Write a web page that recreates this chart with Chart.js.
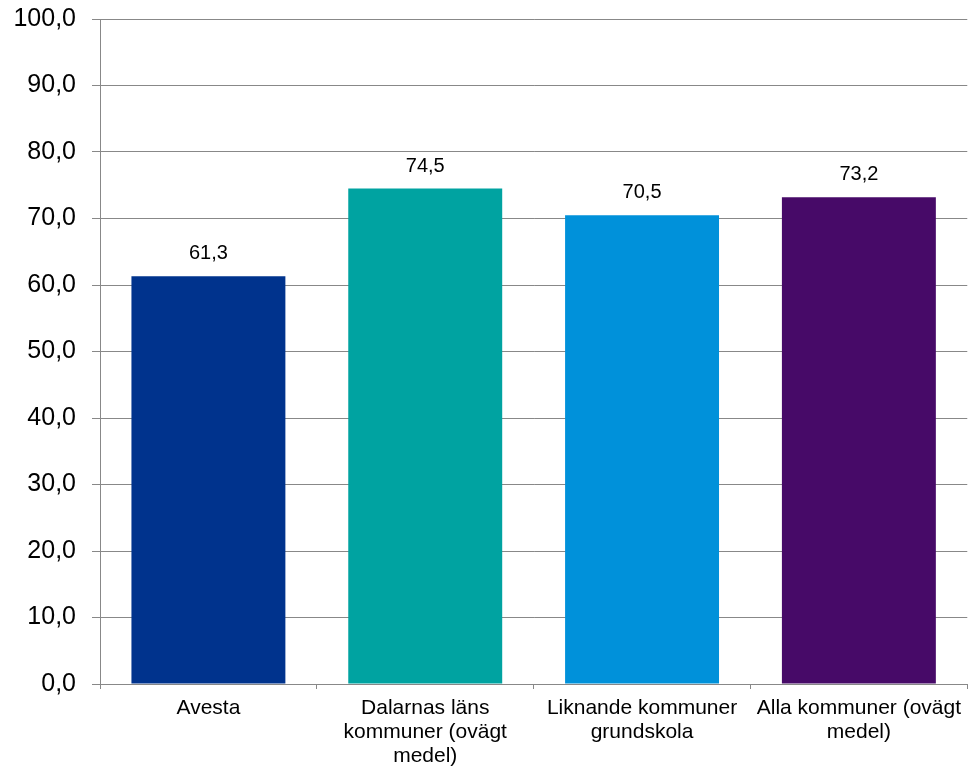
<!DOCTYPE html>
<html>
<head>
<meta charset="utf-8">
<script src="https://cdn.jsdelivr.net/npm/chart.js@4"></script>
<style>
  html, body { margin: 0; padding: 0; background: #fff; }
  #wrap { width: 968px; height: 768px; }
</style>
</head>
<body>
<div id="wrap"><canvas id="myChart" width="968" height="768"></canvas></div>
<script>
// categories and values
const categories = [
    'Avesta',
    ['Dalarnas läns', 'kommuner (ovägt', 'medel)'],
    ['Liknande kommuner', 'grundskola'],
    ['Alla kommuner (ovägt', 'medel)']
];
const values = [61.3, 74.5, 70.5, 73.2];
const barColors = ['#00338D', '#00A3A1', '#0091DA', '#470A68'];
const yTicks = [0, 10, 20, 30, 40, 50, 60, 70, 80, 90, 100];

const fontFamily = '"Liberation Sans", Arial, sans-serif';

// draws the value above each bar
const valueLabels = {
    id: 'valueLabels',
    afterDatasetsDraw(chart) {
        const ctx = chart.ctx;
        const meta = chart.getDatasetMeta(0);
        ctx.save();
        ctx.font = '20px ' + fontFamily;
        ctx.fillStyle = '#000';
        ctx.textAlign = 'center';
        ctx.textBaseline = 'alphabetic';
        meta.data.forEach((bar, i) => {
            ctx.fillText(values[i].toFixed(1).replace('.', ','), bar.x, bar.y - 17);
        });
        ctx.restore();
    }
};

const data = {
    labels: categories,
    datasets: [{
        data: values,
        backgroundColor: barColors,
        borderWidth: 0,
        barPercentage: 0.71,
        categoryPercentage: 1
    }]
};

const config = {
    type: 'bar',
    data: data,
    plugins: [valueLabels],
    options: {
        responsive: false,
        animation: false,
        layout: { padding: { top: 19, right: 0, left: 0, bottom: 0 } },
        plugins: {
            legend: { display: false },
            tooltip: { enabled: false }
        },
        scales: {
            x: {
                offset: true,
                grid: {
                    offset: true,
                    drawOnChartArea: false,
                    drawTicks: true,
                    tickLength: 5,
                    color: '#888'
                },
                border: { color: '#888', width: 1 },
                ticks: {
                    color: '#000',
                    font: { size: 21, family: fontFamily, lineHeight: 1.143 },
                    padding: 7,
                    maxRotation: 0,
                    autoSkip: false
                },
                afterFit(scale) { scale.height = 84; }
            },
            y: {
                min: 0,
                max: 100,
                afterBuildTicks(scale) { scale.ticks = yTicks.map(v => ({ value: v })); },
                grid: {
                    color: '#888',
                    tickLength: 8,
                    drawTicks: true
                },
                border: { color: '#888', width: 1 },
                ticks: {
                    color: '#000',
                    font: { size: 25, family: fontFamily },
                    padding: 16,
                    callback: v => v.toFixed(1).replace('.', ',')
                },
                afterFit(scale) {
                    scale.width = 100;
                    scale.paddingTop = 0;
                    scale.paddingBottom = 0;
                }
            }
        }
    }
};

// eslint-disable-next-line
const myChart = new Chart(document.getElementById('myChart'), config);
</script>
</body>
</html>
